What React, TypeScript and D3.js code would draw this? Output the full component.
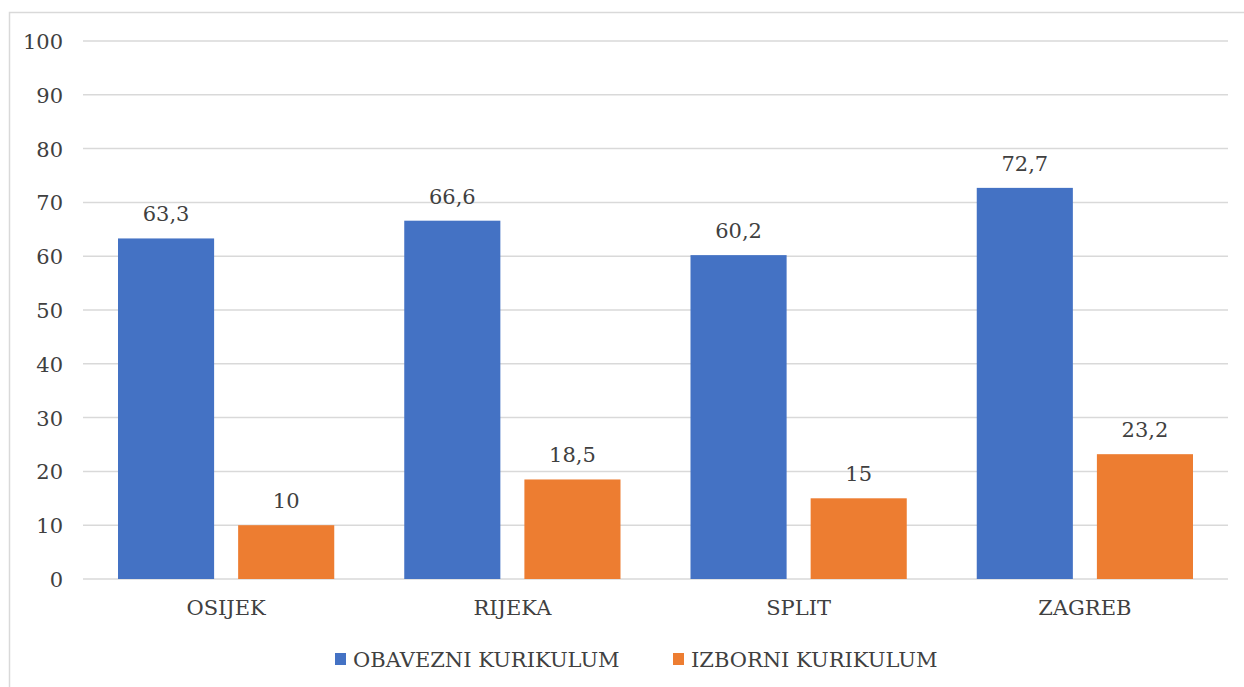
import React from "react";
import * as d3 from "d3";

const cities = ["OSIJEK", "RIJEKA", "SPLIT", "ZAGREB"];
const seriesNames = ["OBAVEZNI KURIKULUM", "IZBORNI KURIKULUM"];
const obavezni = [63.3, 66.6, 60.2, 72.7];
const izborni = [10, 18.5, 15, 23.2];
const yTicks = [0, 10, 20, 30, 40, 50, 60, 70, 80, 90, 100];
const colors = ["#4472c4", "#ed7d31"];

const W = 1244;
const H = 687;
const plot = { left: 83, right: 1228, top: 41, bottom: 579 };
const textColor = "#404040";
const fs = 21;

const fmt = (v: number) => String(v).replace(".", ",");

export default function App() {
  const x = d3.scaleBand<string>().domain(cities).range([plot.left, plot.right]);
  const inner = d3
    .scaleBand<string>()
    .domain(seriesNames)
    .range([35, x.bandwidth() - 35])
    .paddingInner(0.2);
  const y = d3.scaleLinear().domain([0, 100]).range([plot.bottom, plot.top]);
  const values = [obavezni, izborni];
  const legendX = [335, 673];

  return (
    <div style={{ position: "absolute", left: 0, top: 0 }}>
      <svg
        width={W}
        height={H}
        style={{ display: "block", background: "#fff", fontFamily: '"DejaVu Serif", serif' }}
      >
        <rect x={9.5} y={12.5} width={W + 20} height={H + 20} fill="#fff" stroke="#d9d9d9" strokeWidth={1.5} />
        {yTicks.map((t) => (
          <g key={t}>
            <line x1={plot.left} x2={plot.right} y1={y(t)} y2={y(t)} stroke="#d9d9d9" strokeWidth={1.5} />
            <text x={63} y={y(t) + 8} textAnchor="end" fontSize={fs} fill={textColor}>
              {t}
            </text>
          </g>
        ))}
        {cities.map((c, i) => (
          <g key={c} transform={`translate(${x(c)},0)`}>
            {seriesNames.map((s, j) => {
              const v = values[j][i];
              const bx = inner(s)!;
              return (
                <g key={s}>
                  <rect x={bx} y={y(v)} width={inner.bandwidth()} height={y(0) - y(v)} fill={colors[j]} />
                  <text
                    x={bx + inner.bandwidth() / 2}
                    y={y(v) - 17}
                    textAnchor="middle"
                    fontSize={fs}
                    fill={textColor}
                  >
                    {fmt(v)}
                  </text>
                </g>
              );
            })}
            <text x={x.bandwidth() / 2} y={615} textAnchor="middle" fontSize={fs} fill={textColor}>
              {c}
            </text>
          </g>
        ))}
        {seriesNames.map((s, j) => (
          <g key={s}>
            <rect x={legendX[j]} y={653} width={11} height={12} fill={colors[j]} />
            <text x={legendX[j] + 18} y={667} fontSize={fs} fill={textColor}>
              {s}
            </text>
          </g>
        ))}
      </svg>
    </div>
  );
}
